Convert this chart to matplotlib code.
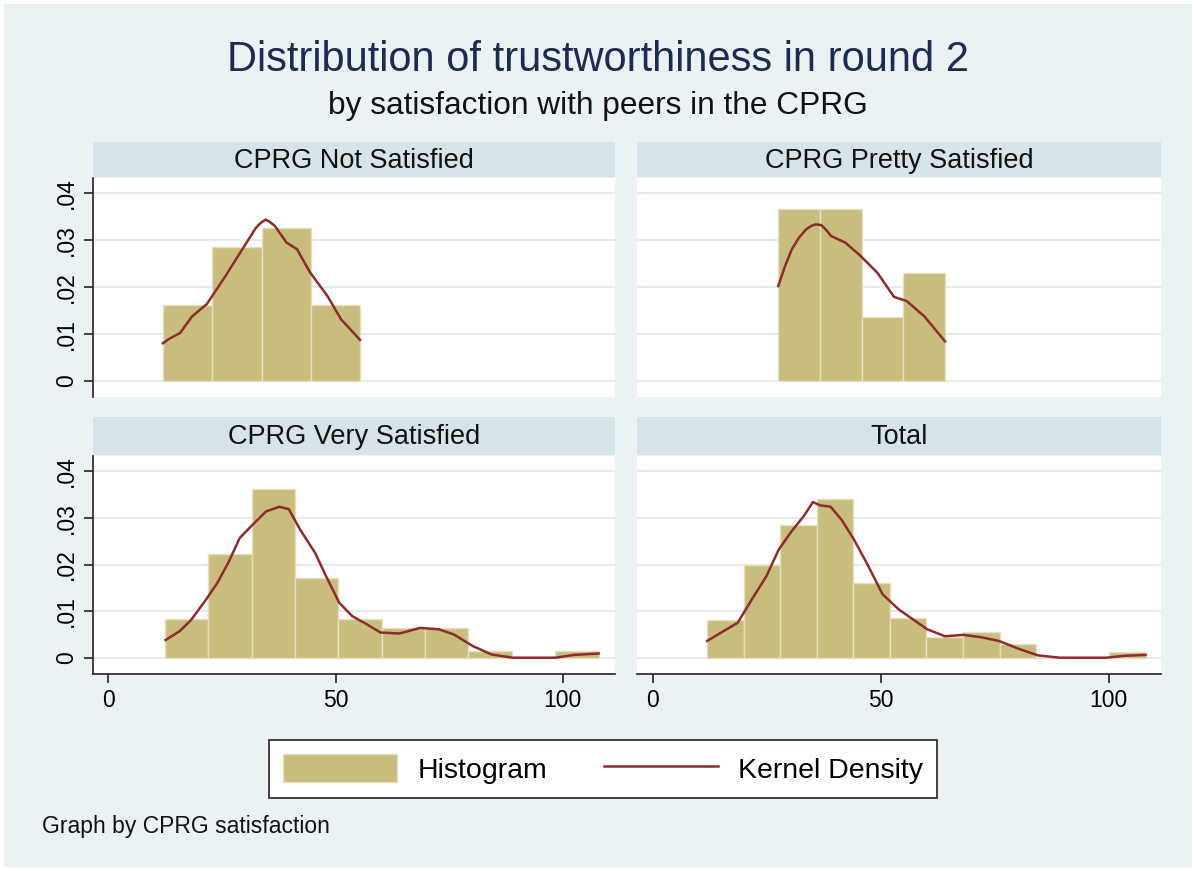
import numpy as np
import matplotlib
matplotlib.use("Agg")
import matplotlib.pyplot as plt
from matplotlib.patches import Rectangle

plt.rcParams['font.family'] = ['Liberation Sans', 'DejaVu Sans']

# histogram bins (x = trustworthiness) and densities
not_sat_edges = [12.0, 22.9, 33.7, 44.5, 55.4]
not_sat_density = [0.0162, 0.0286, 0.0327, 0.0162]
not_sat_kde_x = [12.0, 13.5, 15.8, 18.4, 21.7, 25.8, 29.5, 32.5, 33.5, 34.6, 35.4, 36.6, 39.2, 41.5, 44.4, 48.2,
                 51.2, 55.4]
not_sat_kde_y = [0.0080, 0.0090, 0.0102, 0.0137, 0.0164, 0.0224, 0.0281, 0.0327, 0.0337, 0.0344, 0.0340, 0.0331,
                 0.0295, 0.0281, 0.0231, 0.0181, 0.0131, 0.0087]

pretty_edges = [27.5, 36.65, 45.8, 54.95, 64.1]
pretty_density = [0.0366, 0.0366, 0.0137, 0.0229]
pretty_kde_x = [27.5, 29.0, 30.5, 32.0, 33.6, 34.8, 35.8, 37.0, 38.0, 39.1, 42.2, 45.4, 49.3, 52.9, 55.7, 59.6,
                64.1]
pretty_kde_y = [0.0202, 0.0245, 0.0281, 0.0305, 0.0323, 0.0331, 0.0334, 0.0332, 0.0322, 0.0309, 0.0295, 0.0268,
                0.0230, 0.0179, 0.0170, 0.0137, 0.0084]

very_edges = [12.4, 21.95, 31.5, 41.05, 50.6, 60.15, 69.7, 79.25, 88.8, 98.35, 107.9]
very_density = [0.0082, 0.0222, 0.0362, 0.0172, 0.0082, 0.0063, 0.0063, 0.0014, 0.0, 0.0014]
very_kde_x = [12.6, 15.7, 18.2, 21.5, 24.0, 26.4, 28.9, 31.4, 34.7, 37.6, 39.7, 42.2, 45.5, 47.9, 50.8, 53.7, 57.0,
              59.9, 64.1, 68.6, 72.7, 76.0, 80.2, 84.3, 89.0, 98.4, 102.5, 107.9]
very_kde_y = [0.0038, 0.0057, 0.0081, 0.0125, 0.0161, 0.0204, 0.0257, 0.0282, 0.0314, 0.0324, 0.0319, 0.0275,
              0.0225, 0.0175, 0.0118, 0.0089, 0.0071, 0.0054, 0.0052, 0.0064, 0.0061, 0.0050, 0.0025, 0.0007,
              0.0, 0.0, 0.0006, 0.0009]

total_edges = [11.9, 19.9, 27.9, 36.0, 44.0, 52.0, 60.0, 68.0, 76.1, 84.1, 92.1, 100.1, 108.1]
total_density = [0.0080, 0.0200, 0.0285, 0.0341, 0.0160, 0.0086, 0.0045, 0.0055, 0.0030, 0.0, 0.0, 0.0012]
total_kde_x = [11.9, 15.5, 18.6, 21.7, 24.9, 27.6, 30.4, 33.1, 35.1, 36.7, 39.0, 41.4, 44.1, 47.3, 50.4, 53.9,
               57.1, 60.2, 64.1, 68.1, 72.0, 75.9, 80.6, 84.5, 89.3, 99.5, 103.4, 108.1]
total_kde_y = [0.0036, 0.0057, 0.0075, 0.0125, 0.0175, 0.0232, 0.0271, 0.0304, 0.0334, 0.0327, 0.0324, 0.0296,
               0.0254, 0.0196, 0.0136, 0.0104, 0.0082, 0.0061, 0.0046, 0.0049, 0.0044, 0.0036, 0.0018, 0.0005,
               0.0, 0.0, 0.0004, 0.0006]

panel_titles = ["CPRG Not Satisfied", "CPRG Pretty Satisfied", "CPRG Very Satisfied", "Total"]
x_ticks = [0, 50, 100]
y_ticks = [0, 0.01, 0.02, 0.03, 0.04]
y_tick_labels = ["0", ".01", ".02", ".03", ".04"]

panels = [
    (not_sat_edges, not_sat_density, not_sat_kde_x, not_sat_kde_y),
    (pretty_edges, pretty_density, pretty_kde_x, pretty_kde_y),
    (very_edges, very_density, very_kde_x, very_kde_y),
    (total_edges, total_density, total_kde_x, total_kde_y),
]

BG = '#EAF2F3'
STRIP = '#D6E3E8'
GRID = '#E3EBEE'
BAR = '#C9BD7E'
BAR_EDGE = '#E6E0BF'
KDE = '#8C2D2D'
AXIS = '#222222'

W, H = 1196, 871
fig = plt.figure(figsize=(W / 100, H / 100), dpi=100, facecolor='white')
fig.patches.append(Rectangle((4 / W, 4 / H), 1 - 8 / W, 1 - 8 / H, transform=fig.transFigure,
                             facecolor=BG, edgecolor='none', zorder=-10))


def rect(x0, y0, x1, y1):
    return [x0 / W, 1 - y1 / H, (x1 - x0) / W, (y1 - y0) / H]


cols = [(92.5, 615), (637, 1161)]
rows = [((142, 177), (178, 397)), ((417, 455), (456, 674))]

bar_handle = None
line_handle = None
for i, (edges, dens, kx, ky) in enumerate(panels):
    r, c = divmod(i, 2)
    x0, x1 = cols[c]
    (s0, s1), (p0, p1) = rows[r]

    strip = fig.add_axes(rect(x0, s0, x1, s1))
    strip.set_facecolor(STRIP)
    strip.set_xticks([])
    strip.set_yticks([])
    for sp in strip.spines.values():
        sp.set_visible(False)
    strip.text(0.5, 0.47, panel_titles[i], ha='center', va='center', fontsize=19.5,
               transform=strip.transAxes, color='#111111')

    ax = fig.add_axes(rect(x0, p0, x1, p1))
    ax.set_facecolor('white')
    ax.set_xlim(-3.5, 111.5)
    ax.set_ylim(-0.0035, 0.0433)
    for yt in y_ticks:
        ax.axhline(yt, color=GRID, lw=1.4, zorder=0)
    e = np.array(edges)
    bars = ax.bar(e[:-1], dens, width=np.diff(e), align='edge', color=BAR,
                  edgecolor=BAR_EDGE, linewidth=1.0, zorder=2)
    line, = ax.plot(kx, ky, color=KDE, lw=1.8, zorder=3, solid_joinstyle='round')
    if bar_handle is None:
        bar_handle, line_handle = bars, line

    for sp in ['top', 'right']:
        ax.spines[sp].set_visible(False)
    ax.spines['left'].set_color(AXIS)
    ax.spines['bottom'].set_color(AXIS)
    ax.spines['left'].set_linewidth(1.2)
    ax.spines['bottom'].set_linewidth(1.2)

    if c == 0:
        ax.set_yticks(y_ticks, y_tick_labels)
        ax.tick_params(axis='y', length=6.5, width=1.2, color=AXIS, labelsize=16.5, pad=4, labelrotation=90)
        for lab in ax.get_yticklabels():
            lab.set_va('center')
    else:
        ax.spines['left'].set_visible(False)
        ax.set_yticks([])

    if r == 1:
        ax.set_xticks(x_ticks)
        ax.tick_params(axis='x', length=6.5, width=1.2, color=AXIS, labelsize=16.5, pad=4)
    else:
        ax.spines['bottom'].set_visible(False)
        ax.set_xticks([])

fig.text(0.5, 1 - 60 / H, "Distribution of trustworthiness in round 2", ha='center', va='center',
         fontsize=30, color='#1E2A50')
fig.text(0.5, 1 - 106 / H, "by satisfaction with peers in the CPRG", ha='center', va='center',
         fontsize=22.8, color='#111111')

leg = fig.legend([bar_handle, line_handle], ["Histogram", "Kernel Density"], loc='center',
                 bbox_to_anchor=(603 / W, 1 - 769 / H), ncol=2, fontsize=20.5, frameon=True,
                 fancybox=False, edgecolor='#333333', facecolor='white', framealpha=1,
                 handlelength=4.0, handleheight=1.1, handletextpad=0.7, columnspacing=2.0,
                 borderpad=0.5)
leg.get_frame().set_linewidth(1.3)

fig.text(42 / W, 1 - 826 / H, "Graph by CPRG satisfaction", ha='left', va='center', fontsize=16.5,
         color='#111111')

fig.savefig("out.png", dpi=100, facecolor=fig.get_facecolor())
